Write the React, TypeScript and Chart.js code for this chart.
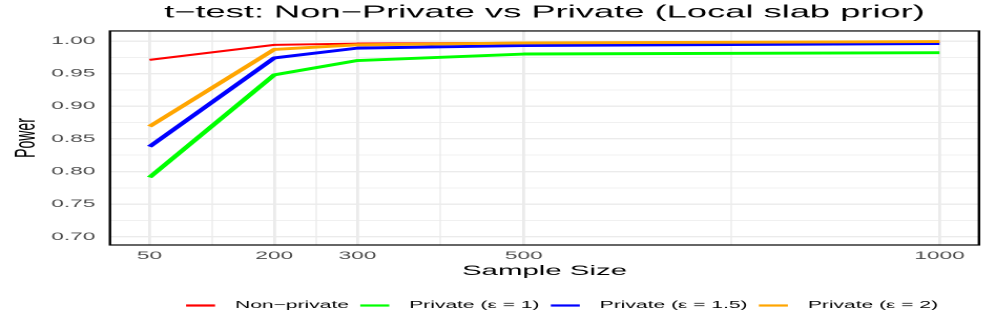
import React, { useEffect, useRef } from "react";
import { Chart, registerables } from "chart.js";

Chart.register(...registerables);

// ---- data ----
const sampleSizes = [50, 200, 300, 500, 1000];
const nonPrivate = [0.971, 0.994, 0.996, 0.997, 0.999];
const privateEps1 = [0.791, 0.948, 0.97, 0.98, 0.982];
const privateEps15 = [0.838, 0.974, 0.989, 0.993, 0.996];
const privateEps2 = [0.869, 0.987, 0.994, 0.997, 0.999];

const seriesLabels = ["Non−private", "Private (ε = 1)", "Private (ε = 1.5)", "Private (ε = 2)"];
const seriesColors = ["#FF0000", "#00FF00", "#0000FF", "#FFA500"];

const xMajorTicks = [50, 200, 300, 500, 1000];
const xMinorTicks = [125, 250, 400, 750];
const yMajorTicks = [0.7, 0.75, 0.8, 0.85, 0.9, 0.95, 1.0];
const yMinorTicks = [0.725, 0.775, 0.825, 0.875, 0.925, 0.975];

const titleText = "t−test: Non−Private vs Private (Local slab prior)";
const xTitle = "Sample Size";
const yTitle = "Power";

// ---- layout (logical canvas is horizontally stretched to the page width) ----
const PAGE_W = 996;
const PAGE_H = 327;
const STRETCH = 2.1013;
const LOGICAL_W = Math.round(PAGE_W / STRETCH);
const FONT = '"Liberation Sans", Arial, Helvetica, sans-serif';

const isMajor = (v: number, list: number[]) => list.some((m) => Math.abs(m - v) < 1e-6);

const panelBorder = {
  id: "panelBorder",
  afterDatasetsDraw(chart: any) {
    const { ctx, chartArea } = chart;
    ctx.save();
    ctx.strokeStyle = "#000000";
    ctx.lineWidth = 1.2;
    ctx.strokeRect(chartArea.left, chartArea.top, chartArea.right - chartArea.left, chartArea.bottom - chartArea.top);
    ctx.restore();
  },
};

const bottomLegend = {
  id: "bottomLegend",
  afterDraw(chart: any) {
    const { ctx, chartArea } = chart;
    const y = 305;
    let x = chartArea.left + 36.2;
    ctx.save();
    ctx.font = `10px ${FONT}`;
    ctx.textBaseline = "middle";
    ctx.textAlign = "left";
    chart.data.datasets.forEach((ds: any) => {
      ctx.strokeStyle = ds.borderColor;
      ctx.lineWidth = 2.2;
      ctx.beginPath();
      ctx.moveTo(x, y + 0.5);
      ctx.lineTo(x + 13.8, y + 0.5);
      ctx.stroke();
      x += 13.8 + 9.5;
      ctx.fillStyle = "#000000";
      ctx.fillText(ds.label, x, y);
      x += ctx.measureText(ds.label).width + 5.4;
    });
    ctx.restore();
  },
};

export default function App() {
  const canvasRef = useRef<HTMLCanvasElement | null>(null);

  useEffect(() => {
    const canvas = canvasRef.current;
    if (!canvas) return;
    canvas.width = LOGICAL_W;
    canvas.height = PAGE_H;

    const series = [nonPrivate, privateEps1, privateEps15, privateEps2];
    const widths = [2, 2.9, 2.9, 2.9];
    const orders = [3, 2, 1, 0];

    const chart = new Chart(canvas, {
      type: "line",
      data: {
        datasets: series.map((vals, i) => ({
          label: seriesLabels[i],
          data: sampleSizes.map((x, j) => ({ x, y: vals[j] })),
          borderColor: seriesColors[i],
          backgroundColor: seriesColors[i],
          borderWidth: widths[i],
          pointRadius: 0,
          tension: 0,
          fill: false,
          borderCapStyle: "butt",
          borderJoinStyle: "round",
          order: orders[i],
        })),
      },
      options: {
        responsive: false,
        maintainAspectRatio: false,
        animation: false,
        devicePixelRatio: 2,
        events: [],
        layout: { padding: { left: 0, right: LOGICAL_W - 465.9, top: 0, bottom: 0 } },
        plugins: {
          legend: { display: false },
          tooltip: { enabled: false },
          title: {
            display: true,
            text: titleText,
            fullSize: false,
            color: "#000000",
            font: { family: FONT, size: 17.3, weight: "normal" },
            padding: { top: 2.3, bottom: 7.9 },
          },
        },
        scales: {
          x: {
            type: "linear",
            min: 2.5,
            max: 1047.5,
            afterBuildTicks: (scale: any) => {
              scale.ticks = [...xMajorTicks, ...xMinorTicks].sort((a, b) => a - b).map((v) => ({ value: v }));
            },
            afterFit: (scale: any) => {
              scale.height = 82;
            },
            ticks: {
              autoSkip: false,
              maxRotation: 0,
              padding: 4.5,
              color: "#4D4D4D",
              font: { family: FONT, size: 10.8 },
              callback: (v: any) => (isMajor(Number(v), xMajorTicks) ? String(v) : ""),
            },
            grid: {
              color: "#EBEBEB",
              lineWidth: (ctx: any) => (ctx.tick && isMajor(ctx.tick.value, xMajorTicks) ? 1.4 : 0.7),
              drawTicks: false,
            },
            border: { display: false },
            title: {
              display: true,
              text: xTitle,
              color: "#000000",
              font: { family: FONT, size: 14 },
              padding: { top: 0, bottom: 47.3 },
            },
          },
          y: {
            type: "linear",
            min: 0.6875,
            max: 1.0153,
            afterBuildTicks: (scale: any) => {
              scale.ticks = [...yMajorTicks, ...yMinorTicks].sort((a, b) => a - b).map((v) => ({ value: v }));
            },
            afterFit: (scale: any) => {
              scale.width = 52.35;
            },
            ticks: {
              autoSkip: false,
              padding: 7,
              color: "#4D4D4D",
              font: { family: FONT, size: 10.8 },
              callback: (v: any) => (isMajor(Number(v), yMajorTicks) ? Number(v).toFixed(2) : ""),
            },
            grid: {
              color: "#EBEBEB",
              lineWidth: (ctx: any) => (ctx.tick && isMajor(ctx.tick.value, yMajorTicks) ? 1.4 : 0.7),
              drawTicks: false,
            },
            border: { display: false },
            title: {
              display: true,
              text: yTitle,
              color: "#000000",
              font: { family: FONT, size: 14 },
              padding: { top: 4, bottom: 0 },
            },
          },
        },
      },
      plugins: [panelBorder, bottomLegend],
    } as any);

    return () => chart.destroy();
  }, []);

  return (
    <div style={{ position: "fixed", left: 0, top: 0, width: PAGE_W, height: PAGE_H, background: "#ffffff" }}>
      <canvas
        ref={canvasRef}
        width={LOGICAL_W}
        height={PAGE_H}
        style={{ display: "block", width: `${PAGE_W}px`, height: `${PAGE_H}px` }}
      />
    </div>
  );
}
